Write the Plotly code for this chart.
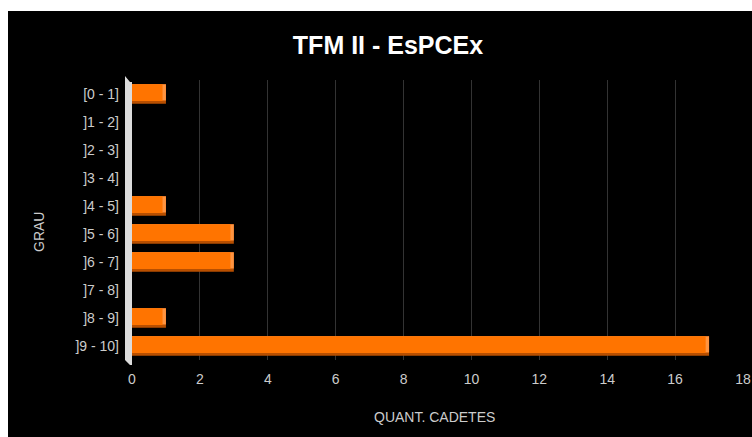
import plotly.graph_objects as go

categories = ["[0 - 1]", "]1 - 2]", "]2 - 3]", "]3 - 4]", "]4 - 5]",
              "]5 - 6]", "]6 - 7]", "]7 - 8]", "]8 - 9]", "]9 - 10]"]
values = [1, 0, 0, 0, 1, 3, 3, 0, 1, 17]
x_ticks = [0, 2, 4, 6, 8, 10, 12, 14, 16, 18]

W, H = 752, 437
L, R, T, B = 132, 9, 80, 77
pw, ph = W - L - R, H - T - B

def px_x(p):
    return (p - L) / pw

def px_y(p):
    return (H - B - p) / ph

bevel = 0.1
fig = go.Figure()
# dark bottom face
fig.add_trace(go.Bar(y=categories, x=values, orientation="h",
                     marker=dict(color="#b84f00", line=dict(width=0)),
                     width=0.7, offset=-0.35, hoverinfo="skip", showlegend=False))
# light side face
fig.add_trace(go.Bar(y=categories, x=values, orientation="h",
                     marker=dict(color="#ff9440", line=dict(width=0)),
                     width=0.58, offset=-0.35, hoverinfo="skip", showlegend=False))
# main face
fig.add_trace(go.Bar(y=categories, x=[max(v - bevel, 0) for v in values], orientation="h",
                     marker=dict(color="#ff7400", line=dict(width=0)),
                     width=0.6, offset=-0.35, showlegend=False, name="Quant."))

shapes = [
    dict(type="rect", xref="paper", yref="paper", layer="below",
         x0=px_x(8), x1=px_x(760), y0=px_y(445), y1=px_y(11),
         fillcolor="black", line=dict(width=0)),
    dict(type="path", xref="paper", yref="paper", layer="above",
         path=f"M {px_x(125)} {px_y(76)} L {px_x(130)} {px_y(82)} L {px_x(132)} {px_y(82)} "
              f"L {px_x(132)} {px_y(365)} L {px_x(130)} {px_y(365)} L {px_x(125)} {px_y(360)} Z",
         fillcolor="#dcdcdc", line=dict(width=0)),
]

fig.update_layout(
    width=W, height=H,
    margin=dict(l=L, r=R, t=T, b=B, autoexpand=False),
    paper_bgcolor="white", plot_bgcolor="rgba(0,0,0,0)",
    barmode="overlay",
    font=dict(family="Liberation Sans, Arial, sans-serif", color="#cccccc", size=14),
    title=dict(text="<b>TFM II - EsPCEx</b>", x=388 / W, xref="container", xanchor="center",
               y=1 - 45 / H, yref="container", yanchor="middle",
               font=dict(size=25, color="white")),
    xaxis=dict(range=[0, 18], tickvals=x_ticks, showgrid=True, gridcolor="#333333",
               gridwidth=1, zeroline=False, showline=False, ticks="", automargin=False,
               ticklabelstandoff=9, tickfont=dict(size=14, color="#cccccc")),
    yaxis=dict(categoryorder="array", categoryarray=categories, autorange="reversed",
               showgrid=False, zeroline=False, showline=False, ticks="", automargin=False,
               ticklabelstandoff=12, tickfont=dict(size=14, color="#cccccc")),
    shapes=shapes,
    annotations=[
        dict(text="GRAU", xref="paper", yref="paper", x=px_x(39), y=px_y(232),
             xanchor="center", yanchor="middle",
             showarrow=False, textangle=-90, font=dict(size=14, color="#cccccc")),
        dict(text="QUANT. CADETES", xref="paper", yref="paper", x=px_x(434), y=px_y(417),
             xanchor="center", yanchor="middle",
             showarrow=False, font=dict(size=14, color="#cccccc")),
    ],
)

fig.write_html("out.html")
